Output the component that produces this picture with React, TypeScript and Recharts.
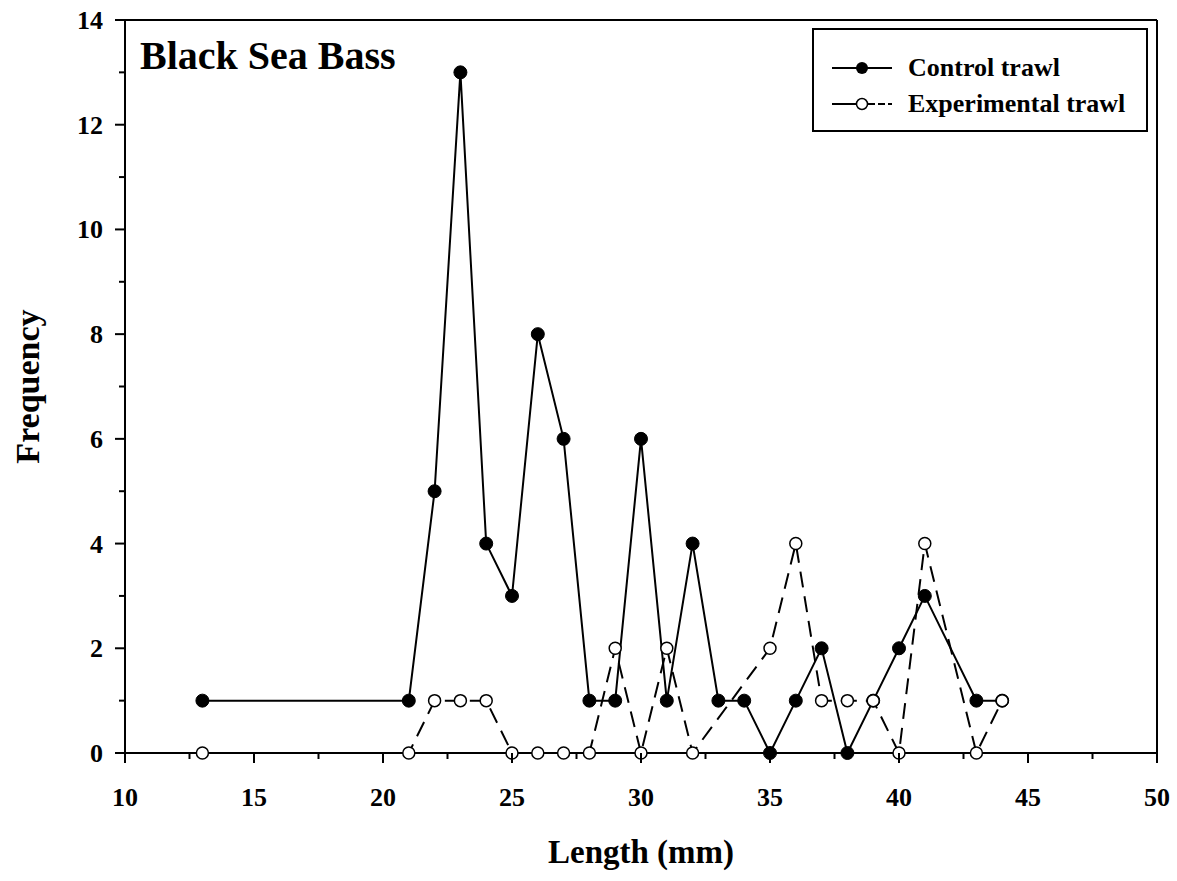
import {
    LineChart,
    Line,
    XAxis,
    YAxis,
    ReferenceLine,
    Legend,
} from "recharts";

const controlLengths = [13, 21, 22, 23, 24, 25, 26, 27, 28, 29, 30, 31, 32, 33, 34, 35, 36, 37, 38, 39, 40, 41, 43, 44];
const controlFreq = [1, 1, 5, 13, 4, 3, 8, 6, 1, 1, 6, 1, 4, 1, 1, 0, 1, 2, 0, 1, 2, 3, 1, 1];

const expLengths = [13, 21, 22, 23, 24, 25, 26, 27, 28, 29, 30, 31, 32, 35, 36, 37, 38, 39, 40, 41, 43, 44];
const expFreq = [0, 0, 1, 1, 1, 0, 0, 0, 0, 2, 0, 2, 0, 2, 4, 1, 1, 1, 0, 4, 0, 1];

const xTicks = [10, 12.5, 15, 17.5, 20, 22.5, 25, 27.5, 30, 32.5, 35, 37.5, 40, 42.5, 45, 47.5, 50];
const yTicks = [0, 1, 2, 3, 4, 5, 6, 7, 8, 9, 10, 11, 12, 13, 14];

const controlData = controlLengths.map((len, i) => ({ len, freq: controlFreq[i] }));
const expData = expLengths.map((len, i) => ({ len, freq: expFreq[i] }));

const FONT = "'Liberation Serif', 'Times New Roman', serif";

function XTick(props: any) {
    const { x, y, payload } = props;
    const major = payload.value % 5 === 0;
    return (
        <g>
            <line x1={x} x2={x} y1={y} y2={y + (major ? 10 : 6)} stroke="#000" strokeWidth={2} />
            {major && (
                <text x={x} y={y + 53} textAnchor="middle" fontFamily={FONT} fontWeight="bold" fontSize={26} fill="#000">
                    {payload.value}
                </text>
            )}
        </g>
    );
}

function YTick(props: any) {
    const { x, y, payload } = props;
    const major = payload.value % 2 === 0;
    return (
        <g>
            <line x1={x} x2={x - (major ? 10 : 6)} y1={y} y2={y} stroke="#000" strokeWidth={2} />
            {major && (
                <text x={x - 22} y={y + 9} textAnchor="end" fontFamily={FONT} fontWeight="bold" fontSize={26} fill="#000">
                    {payload.value}
                </text>
            )}
        </g>
    );
}

function LegendBox() {
    return (
        <div
            style={{
                border: "2px solid #000",
                background: "#fff",
                width: 336,
                height: 104,
                boxSizing: "border-box",
                padding: "20px 0 0 18px",
                fontFamily: FONT,
                fontWeight: "bold",
                fontSize: 26,
                lineHeight: "36px",
            }}
        >
            <div style={{ display: "flex", alignItems: "center" }}>
                <svg width={60} height={20} style={{ marginRight: 16 }}>
                    <line x1={0} x2={60} y1={10} y2={10} stroke="#000" strokeWidth={2} />
                    <circle cx={30} cy={10} r={6} fill="#000" />
                </svg>
                Control trawl
            </div>
            <div style={{ display: "flex", alignItems: "center" }}>
                <svg width={60} height={20} style={{ marginRight: 16 }}>
                    <line x1={0} x2={24} y1={10} y2={10} stroke="#000" strokeWidth={2} />
                    <line x1={36} x2={60} y1={10} y2={10} stroke="#000" strokeWidth={2} strokeDasharray="7 3" />
                    <circle cx={30} cy={10} r={5.5} fill="#fff" stroke="#000" strokeWidth={1.5} />
                </svg>
                Experimental trawl
            </div>
        </div>
    );
}

export default function App() {
    return (
        <div style={{ position: "absolute", left: 0, top: 0, width: 1177, height: 881, background: "#fff" }}>
            <LineChart width={1177} height={881} margin={{ top: 20, right: 20, left: 0, bottom: 0 }}>
                <XAxis
                    type="number"
                    dataKey="len"
                    domain={[10, 50]}
                    ticks={xTicks}
                    interval={0}
                    height={128}
                    tickSize={0}
                    tickMargin={0}
                    tickLine={false}
                    tick={<XTick />}
                    axisLine={{ stroke: "#000", strokeWidth: 2 }}
                    label={{
                        content: (p: any) => (
                            <text
                                x={p.viewBox.x + p.viewBox.width / 2}
                                y={p.viewBox.y + 110}
                                textAnchor="middle"
                                fontFamily={FONT}
                                fontWeight="bold"
                                fontSize={33}
                                fill="#000"
                            >
                                Length (mm)
                            </text>
                        ),
                    }}
                />
                <YAxis
                    type="number"
                    domain={[0, 14]}
                    ticks={yTicks}
                    interval={0}
                    width={125}
                    tickSize={0}
                    tickMargin={0}
                    tickLine={false}
                    tick={<YTick />}
                    axisLine={{ stroke: "#000", strokeWidth: 2 }}
                    label={{
                        content: (p: any) => {
                            const cx = p.viewBox.x + 27;
                            const cy = p.viewBox.y + p.viewBox.height / 2;
                            return (
                                <text
                                    x={cx}
                                    y={cy}
                                    transform={`rotate(-90, ${cx}, ${cy})`}
                                    textAnchor="middle"
                                    dominantBaseline="central"
                                    fontFamily={FONT}
                                    fontWeight="bold"
                                    fontSize={34}
                                    fill="#000"
                                >
                                    Frequency
                                </text>
                            );
                        },
                    }}
                />
                <ReferenceLine y={14} stroke="#000" strokeWidth={2} />
                <ReferenceLine x={50} stroke="#000" strokeWidth={2} />
                <Legend
                    layout="vertical"
                    align="center"
                    verticalAlign="middle"
                    content={<LegendBox />}
                    wrapperStyle={{ top: 28, left: 812, width: 336 }}
                />
                <Line
                    data={controlData}
                    dataKey="freq"
                    name="Control trawl"
                    stroke="#000"
                    strokeWidth={2}
                    dot={{ r: 6.5, fill: "#000", stroke: "#000", strokeWidth: 1 }}
                    isAnimationActive={false}
                />
                <Line
                    data={expData}
                    dataKey="freq"
                    name="Experimental trawl"
                    stroke="#000"
                    strokeWidth={2}
                    strokeDasharray="16 9"
                    dot={{ r: 6, fill: "#fff", stroke: "#000", strokeWidth: 1.5, strokeDasharray: "0" }}
                    isAnimationActive={false}
                />
            </LineChart>
            <div
                style={{
                    position: "absolute",
                    left: 140,
                    top: 36,
                    fontFamily: FONT,
                    fontWeight: "bold",
                    fontSize: 40,
                    lineHeight: "40px",
                }}
            >
                Black Sea Bass
            </div>
        </div>
    );
}
